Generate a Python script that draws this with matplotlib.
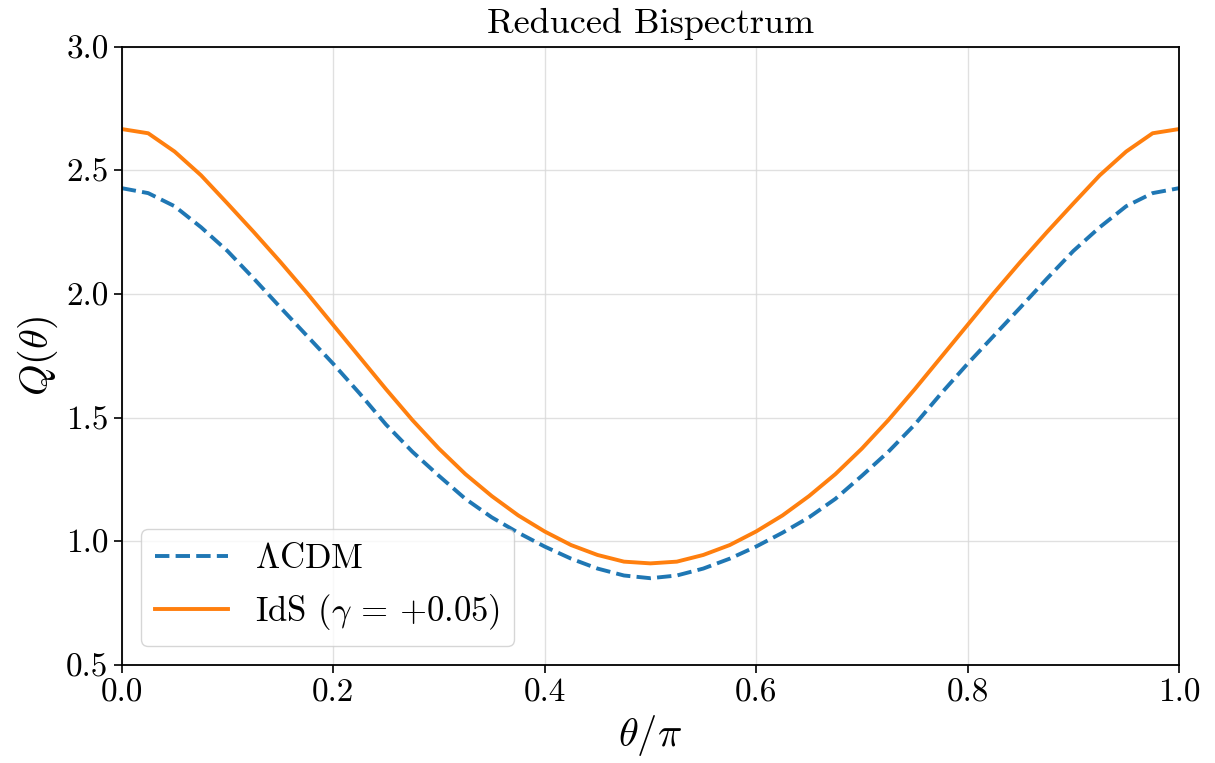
import matplotlib
matplotlib.use("Agg")
import matplotlib.pyplot as plt

plt.rcParams["font.family"] = "serif"
plt.rcParams["font.serif"] = ["cmr10"]
plt.rcParams["mathtext.fontset"] = "cm"
plt.rcParams["axes.unicode_minus"] = False
plt.rcParams["axes.formatter.use_mathtext"] = True

# theta / pi sample points
theta = [0.000, 0.025, 0.050, 0.075, 0.100, 0.125, 0.150, 0.175, 0.200, 0.225,
         0.250, 0.275, 0.300, 0.325, 0.350, 0.375, 0.400, 0.425, 0.450, 0.475,
         0.500, 0.525, 0.550, 0.575, 0.600, 0.625, 0.650, 0.675, 0.700, 0.725,
         0.750, 0.775, 0.800, 0.825, 0.850, 0.875, 0.900, 0.925, 0.950, 0.975,
         1.000]

# reduced bispectrum, LCDM
q_lcdm = [2.428, 2.408, 2.355, 2.270, 2.174, 2.062, 1.946, 1.832, 1.718, 1.598,
          1.472, 1.362, 1.265, 1.172, 1.097, 1.035, 0.979, 0.930, 0.890, 0.862,
          0.851, 0.862, 0.890, 0.930, 0.979, 1.035, 1.097, 1.172, 1.265, 1.362,
          1.472, 1.598, 1.718, 1.832, 1.946, 2.062, 2.174, 2.270, 2.355, 2.408,
          2.428]

# reduced bispectrum, IdS gamma = +0.05
q_ids = [2.667, 2.650, 2.576, 2.480, 2.366, 2.250, 2.130, 2.005, 1.875, 1.745,
         1.615, 1.490, 1.375, 1.272, 1.183, 1.105, 1.040, 0.985, 0.945, 0.918,
         0.911, 0.918, 0.945, 0.985, 1.040, 1.105, 1.183, 1.272, 1.375, 1.490,
         1.615, 1.745, 1.875, 2.005, 2.130, 2.250, 2.366, 2.480, 2.576, 2.650,
         2.667]

fig = plt.figure(figsize=(12.15, 7.63), dpi=100)
ax = fig.add_axes([0.1002, 0.1284, 0.8702, 0.8104])

ax.plot(theta, q_lcdm, "--", color="tab:blue", lw=2.8, label=r"$\Lambda$CDM")
ax.plot(theta, q_ids, "-", color="tab:orange", lw=2.8,
        label=r"IdS ($\gamma$ = +0.05)")

ax.set_xlim(0.0, 1.0)
ax.set_ylim(0.5, 3.0)
ax.set_xticks([0.0, 0.2, 0.4, 0.6, 0.8, 1.0])
ax.set_yticks([0.5, 1.0, 1.5, 2.0, 2.5, 3.0])
ax.set_xticklabels(["0.0", "0.2", "0.4", "0.6", "0.8", "1.0"])
ax.set_yticklabels(["0.5", "1.0", "1.5", "2.0", "2.5", "3.0"])
ax.tick_params(labelsize=24, length=6, width=1.2)
for sp in ax.spines.values():
    sp.set_linewidth(1.3)

ax.grid(True, color="#d9d9d9", lw=1.0, alpha=0.8)

ax.set_xlabel(r"$\theta/\pi$", fontsize=29)
ax.set_ylabel(r"$Q(\theta)$", fontsize=29)
ax.set_title("Reduced Bispectrum", fontsize=26, pad=10)

ax.legend(loc="lower left", fontsize=25, handlelength=2.1, borderaxespad=0.55)

fig.savefig("out.png", dpi=100)
